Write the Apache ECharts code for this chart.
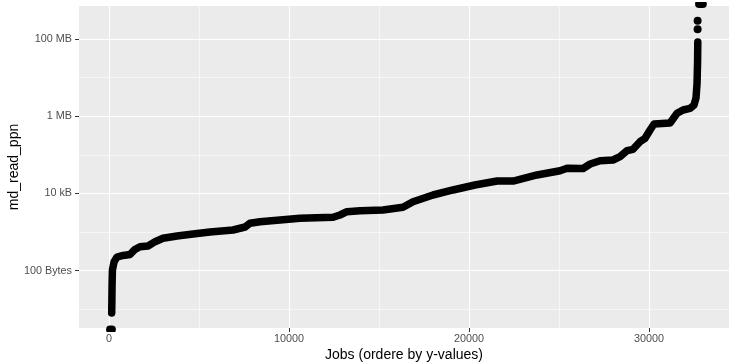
<!DOCTYPE html>
<html>
<head>
<meta charset="utf-8">
<script src="https://cdn.jsdelivr.net/npm/echarts@6/dist/echarts.min.js"></script>
<style>html,body{margin:0;padding:0;background:#fff}#c{width:729px;height:364px}</style>
</head>
<body>
<div id="c"></div>
<script>
// Jobs ordered by md_read_ppn value
const jobIdx = [150,160,170,190,280,440,780,1170,1440,1720,2170,2560,3000,3780,4670,5610,6890,7560,7830,8390,10610,12450,12830,13220,13950,15220,16330,16890,18000,19110,20330,21560,22450,23780,25060,25450,26340,26730,27280,28000,28390,28780,29110,29500,29780,30060,30280,31170,31560,31890,32280,32500,32610,32670,32700,32710];
const readBytes = [8,17,43,104,168,226,248,263,354,418,436,564,690,792,891,1004,1132,1354,1688,1857,2275,2415,2770,3370,3580,3730,4385,6120,9120,12300,16560,21000,21000,30080,38800,44800,44300,57900,70500,73500,89500,128000,139000,219000,268000,440000,629000,667000,1190000,1450000,1600000,1950000,2960000,7250000,28600000,83600000];
// isolated / clipped extremes
const lowIdx = [60,160];
const lowBytes = [3,3];
const highIdx = [32780,32990];
const highBytes = [800000000,800000000];
const outIdx = [32700,32700];
const outBytes = [178000000,298000000];

const yTicks = [100,10000,1000000,100000000];
const yTickLabels = ['100 Bytes','10 kB','1 MB','100 MB'];
const yMinor = [10,1000,100000,10000000];
const xTicks = [0,10000,20000,30000];
const xMinor = [5000,15000,25000];

const zip = (a,b)=>a.map((v,i)=>[v,b[i]]);
const font = '"Liberation Sans", Arial, Helvetica, sans-serif';
const chart = echarts.init(document.getElementById('c'));
chart.setOption({
  animation:false,
  grid:{left:79,right:0,top:6,bottom:36,show:true,backgroundColor:'#EBEBEB',borderWidth:0,containLabel:false,outerBoundsMode:'none'},
  xAxis:{type:'value',min:-1667,max:34444,
    name:'Jobs (ordere by y-values)',nameLocation:'middle',nameGap:20,nameMoveOverlap:false,
    nameTextStyle:{color:'#000',fontSize:14,fontFamily:font},
    axisLine:{show:false,onZero:false},
    axisTick:{show:true,length:4,customValues:xTicks,lineStyle:{color:'#333',width:1}},
    axisLabel:{customValues:xTicks,color:'#4D4D4D',fontSize:10.8,fontFamily:font,margin:6,formatter:v=>String(v)},
    splitLine:{show:true,lineStyle:{color:'#fff',width:1.1}}
  },
  yAxis:{type:'log',logBase:10,min:3.28,max:7.15e8,
    name:'md_read_ppn',nameLocation:'middle',nameRotate:90,nameGap:58,nameMoveOverlap:false,
    nameTextStyle:{color:'#000',fontSize:14,fontFamily:font},
    axisLine:{show:false,onZero:false},
    axisTick:{show:true,length:4,customValues:yTicks,lineStyle:{color:'#333',width:1}},
    axisLabel:{customValues:yTicks,color:'#4D4D4D',fontSize:10.8,fontFamily:font,margin:7,
      formatter:v=>{const i=yTicks.findIndex(t=>Math.abs(Math.log10(t)-Math.log10(v))<1e-6);return i>=0?yTickLabels[i]:'';}},
    splitLine:{show:true,lineStyle:{color:'#fff',width:1.1}}
  },
  series:[
    {type:'line',z:1,data:[],silent:true,
      markLine:{silent:true,symbol:'none',z:1,label:{show:false},
        lineStyle:{color:'#fff',width:0.55,type:'solid'},
        data:[...yMinor.map(v=>({yAxis:v})),...xMinor.map(v=>({xAxis:v}))]}},
    {type:'line',z:3,data:zip(jobIdx,readBytes),showSymbol:false,symbol:'none',clip:true,
      lineStyle:{color:'#000',width:7.5,cap:'round',join:'round'}},
    {type:'line',z:3,data:zip(lowIdx,lowBytes),showSymbol:false,symbol:'none',clip:true,
      lineStyle:{color:'#000',width:8,cap:'round'}},
    {type:'line',z:3,data:zip(highIdx,highBytes),showSymbol:false,symbol:'none',clip:true,
      lineStyle:{color:'#000',width:8,cap:'round'}},
    {type:'scatter',z:3,data:zip(outIdx,outBytes),symbol:'circle',symbolSize:8,itemStyle:{color:'#000',opacity:1}}
  ]
});
</script>
</body>
</html>
